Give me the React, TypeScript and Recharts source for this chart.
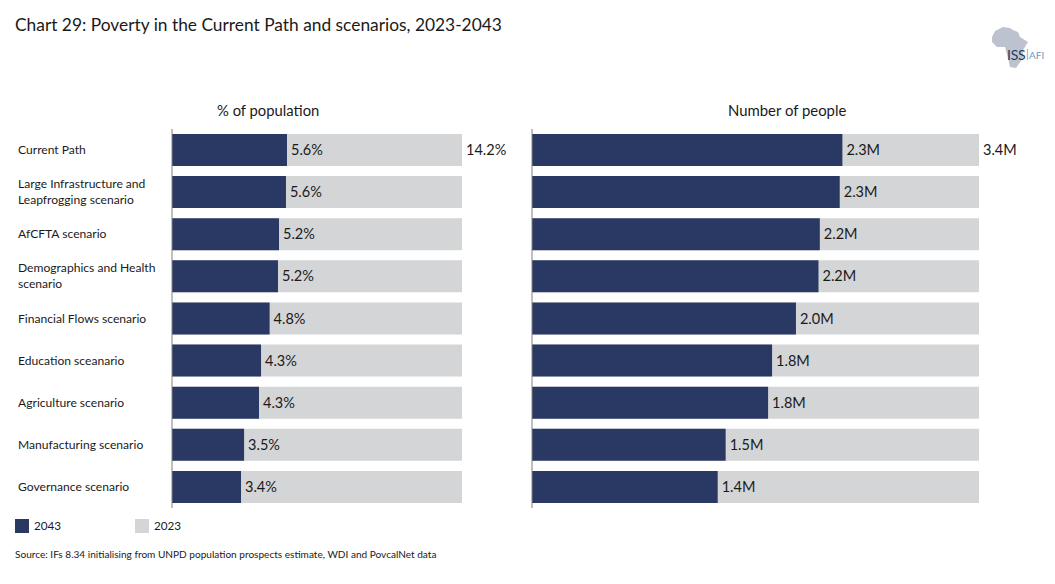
import { BarChart, Bar, XAxis, YAxis, LabelList } from 'recharts';

const FONT = 'Lato, sans-serif';
const NAVY = '#2A3864';
const GREY = '#D4D5D7';
const INK = '#1a1a1a';

const categories = [
  'Current Path',
  'Large Infrastructure and|Leapfrogging scenario',
  'AfCFTA scenario',
  'Demographics and Health|scenario',
  'Financial Flows scenario',
  'Education sceanario',
  'Agriculture scenario',
  'Manufacturing scenario',
  'Governance scenario',
];

const pct2043 = [5.63, 5.58, 5.24, 5.19, 4.78, 4.36, 4.26, 3.53, 3.38];
const pct2043Labels = ['5.6%', '5.6%', '5.2%', '5.2%', '4.8%', '4.3%', '4.3%', '3.5%', '3.4%'];
const pct2023 = 14.2;
const pct2023Label = '14.2%';

const people2043 = [2.34, 2.32, 2.17, 2.16, 1.99, 1.81, 1.78, 1.46, 1.4];
const people2043Labels = ['2.3M', '2.3M', '2.2M', '2.2M', '2.0M', '1.8M', '1.8M', '1.5M', '1.4M'];
const people2023 = 3.37;
const people2023Label = '3.4M';

const pctData = categories.map((name, i) => ({
  name,
  y2043: pct2043[i],
  y2023: pct2023,
  label2043: pct2043Labels[i],
  label2023: i === 0 ? pct2023Label : '',
}));

const peopleData = categories.map((name, i) => ({
  name,
  y2043: people2043[i],
  y2023: people2023,
  label2043: people2043Labels[i],
  label2023: i === 0 ? people2023Label : '',
}));

const CategoryTick = ({ y, payload }: any) => {
  const lines = String(payload.value).split('|');
  return (
    <text x={18} y={y} fontFamily={FONT} fontSize={12.1} fill={INK}>
      {lines.map((line, i) => (
        <tspan key={i} x={18} dy={i === 0 ? (lines.length > 1 ? -4 : 4) : 16}>
          {line}
        </tspan>
      ))}
    </text>
  );
};

const labelStyle = { fontFamily: FONT, fontSize: 14.5, fill: INK };

function Panel({ data, max, left, width, axisWidth, marginRight, ticks }: any) {
  return (
    <BarChart
      layout="vertical"
      data={data}
      width={width}
      height={379}
      margin={{ top: 0, right: marginRight, bottom: 0, left: 0 }}
      barSize={32}
      barGap={-32}
      style={{ position: 'absolute', left, top: 129 }}
    >
      <XAxis type="number" hide domain={[0, max]} />
      <YAxis
        type="category"
        dataKey="name"
        width={axisWidth}
        tick={ticks ? <CategoryTick /> : false}
        tickLine={false}
        axisLine={{ stroke: '#808080' }}
        interval={0}
      />
      <Bar dataKey="y2023" fill={GREY} isAnimationActive={false}>
        <LabelList dataKey="label2023" position="right" offset={4} style={labelStyle} />
      </Bar>
      <Bar dataKey="y2043" fill={NAVY} isAnimationActive={false}>
        <LabelList dataKey="label2043" position="right" offset={4} style={labelStyle} />
      </Bar>
    </BarChart>
  );
}

const text = (left: number, top: number, size: number, extra: any = {}) => ({
  position: 'absolute' as const,
  left,
  top,
  fontFamily: FONT,
  fontSize: size,
  color: INK,
  lineHeight: 1,
  whiteSpace: 'nowrap' as const,
  ...extra,
});

export default function App() {
  return (
    <div style={{ position: 'absolute', left: 0, top: 0, width: 1055, height: 584, background: '#fff', overflow: 'hidden' }}>
      <div style={text(15, 16, 17.35)}>Chart 29: Poverty in the Current Path and scenarios, 2023-2043</div>

      <svg width={70} height={50} style={{ position: 'absolute', left: 985, top: 24 }}>
        <polygon
          points="7,13 10,7 18,3 25,4 28,6 33,8 35,13 43,18 38,26 38,34 31,44 25,43 23,34 20,23 12,23 7,18"
          fill="#BCC3CE"
        />
      </svg>
      <div style={text(1007, 48, 14, { color: '#24395F', letterSpacing: -0.2 })}>ISS</div>
      <div style={text(1026, 49, 10.5, { color: '#6C9CC0' })}>|</div>
      <div style={text(1029, 50, 10, { color: '#6C9CC0' })}>AFI</div>

      <div style={text(217, 103, 14.8)}>% of population</div>
      <div style={text(728, 103, 14.9)}>Number of people</div>

      <Panel data={pctData} max={pct2023} left={0} width={560} axisWidth={172} marginRight={98} ticks />
      <Panel data={peopleData} max={people2023} left={531} width={524} axisWidth={1} marginRight={76} ticks={false} />

      <div style={{ position: 'absolute', left: 15, top: 519, width: 14, height: 14, background: NAVY }} />
      <div style={text(34, 520, 11.7)}>2043</div>
      <div style={{ position: 'absolute', left: 135, top: 519, width: 14, height: 14, background: GREY }} />
      <div style={text(154, 520, 11.7)}>2023</div>

      <div style={text(15, 549, 10.07)}>Source: IFs 8.34 initialising from UNPD population prospects estimate, WDI and PovcalNet data</div>
    </div>
  );
}
